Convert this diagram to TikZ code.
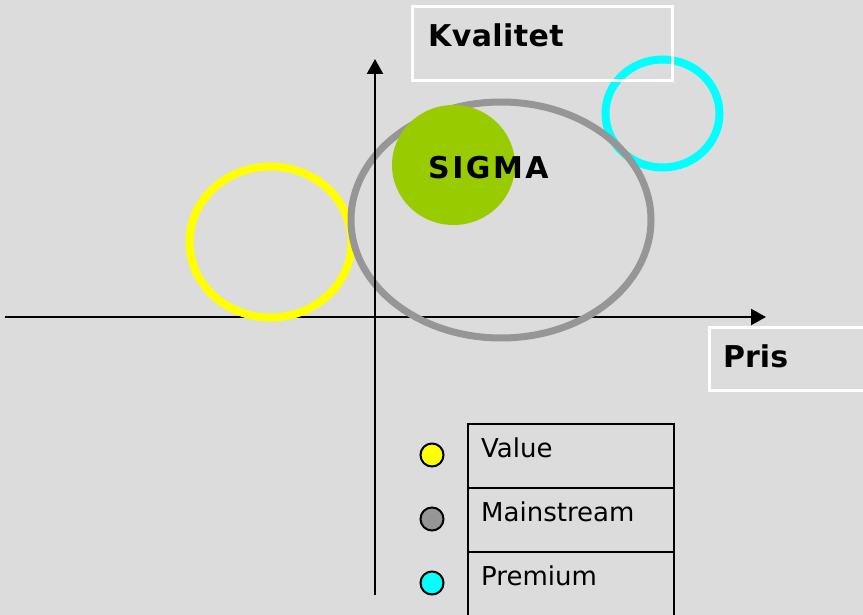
\documentclass[tikz,border=0pt]{standalone}
\usepackage{fontspec}
\setmainfont{DejaVu Sans}
\usetikzlibrary{arrows.meta}
\definecolor{bg}{RGB}{220,220,220}
\definecolor{mgray}{RGB}{150,150,150}
\definecolor{sgreen}{RGB}{153,204,0}
\definecolor{ryellow}{RGB}{255,255,0}
\definecolor{rcyan}{RGB}{0,255,255}
\tikzset{
  axis/.style={line width=2.4pt, -{Triangle[length=15pt,width=16pt]}},
  ring/.style={line width=8pt},
  labelbox/.style={draw=white, line width=3pt},
  bigtext/.style={anchor=base west, inner sep=0pt, font=\fontsize{30}{36}\selectfont\bfseries},
  legtext/.style={anchor=base west, inner sep=0pt, font=\fontsize{26}{30}\selectfont},
  legdot/.style={draw=black, line width=2pt, circle, minimum size=23pt, inner sep=0pt},
  legrow/.style={draw=black, line width=2.4pt, minimum width=206pt, minimum height=64pt, inner sep=0pt, anchor=north west}
}
\begin{document}
\begin{tikzpicture}[x=1pt,y=-1pt]
\fill[bg] (0,0) rectangle (863,615);
\useasboundingbox (0,0) rectangle (863,615);
% horizontal axis
\coordinate (hs) at (5,317);
\coordinate (he) at (766,317);
\draw[axis] (hs) -- (he);
% rings
\draw[ring, rcyan] (662.5,113.5) ellipse [x radius=57, y radius=54];
\draw[ring, ryellow] (270.5,242) ellipse [x radius=81, y radius=75.5];
\draw[line width=7pt, mgray] (501,220) ellipse [x radius=150, y radius=118];
\fill[sgreen] (453.5,165) ellipse [x radius=61.5, y radius=60];
% vertical axis
\coordinate (vs) at (375,595);
\coordinate (ve) at (375,59);
\draw[axis] (vs) -- (ve);
% label boxes
\draw[labelbox] (412,7) rectangle (672,81);
\draw[labelbox] (709,327) rectangle (870,390);
\node[bigtext] (kval) at (428,47) {K\kern0.4pt v\kern0.4pt a\kern0.4pt l\kern0.4pt i\kern0.4pt t\kern0.4pt e\kern0.4pt t};
\node[bigtext] (pris) at (723,367) {Pris};
\node[bigtext] (sigma) at (428,179) {S\kern2.5pt I\kern2.5pt G\kern2.5pt M\kern2.5pt A};
% legend
\node[legrow] (r1) at (467,423) {};
\node[legrow] (r2) at (467,487) {};
\node[legrow] (r3) at (467,551) {};
\node[legtext] (t1) at (481,457) {Value};
\node[legtext] (t2) at (481,521) {Mainstream};
\node[legtext] (t3) at (481,585) {Premium};
\node[legdot, fill=ryellow] (d1) at (432,455) {};
\node[legdot, fill=mgray] (d2) at (432,519) {};
\node[legdot, fill=rcyan] (d3) at (432,583) {};
\end{tikzpicture}
\end{document}
